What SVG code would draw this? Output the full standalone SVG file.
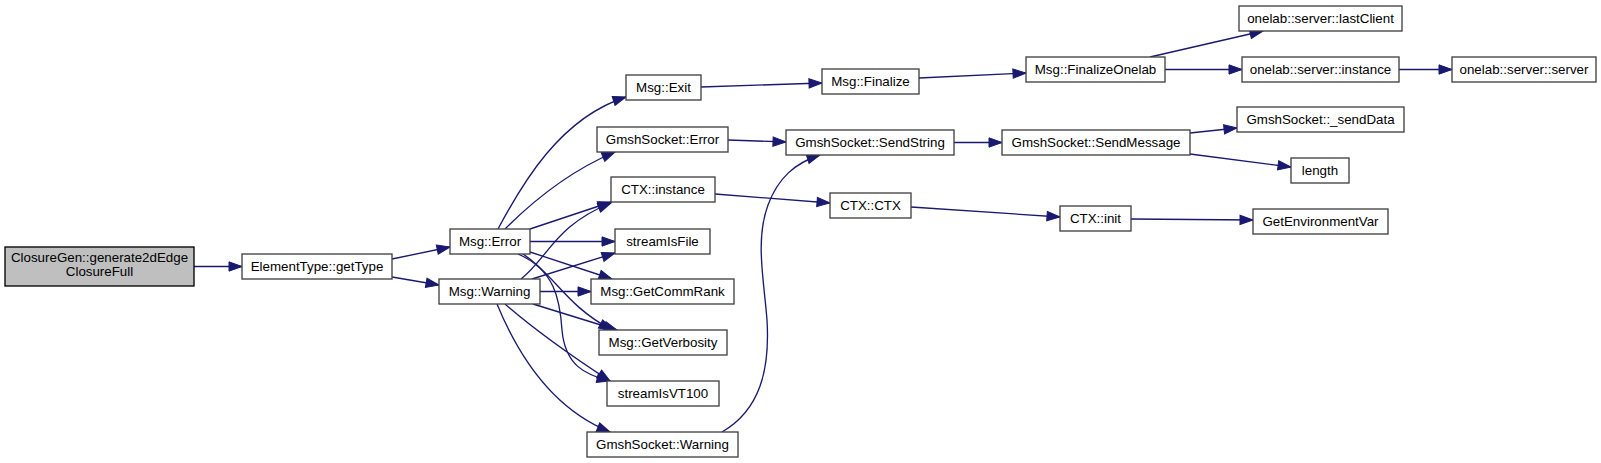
<svg xmlns="http://www.w3.org/2000/svg" width="1601" height="463" viewBox="0 0 1601 463">
<style>
.n rect{fill:#ffffff;stroke:#404040;stroke-width:1.33}
.n text{font-family:"Liberation Sans",Arial,sans-serif;font-size:13.33px;fill:#000;text-anchor:middle}
#edges path{fill:none;stroke:#191970;stroke-width:1.33;marker-end:url(#ah)}
</style>
<defs>
<marker id="ah" markerUnits="userSpaceOnUse" markerWidth="14" markerHeight="10" refX="13" refY="4.65" orient="auto" overflow="visible">
<path d="M0,0 L13,4.65 L0,9.3 z" fill="#191970" stroke="#191970" stroke-width="1"/>
</marker>
</defs>
<rect width="1601" height="463" fill="#ffffff"/>
<g id="edges">
<path d="M194,266.5 L242,266.5"/>
<path d="M392,259 L450,247"/>
<path d="M392,277 L439,285"/>
<path d="M498,229 C522,184 560,118 626,97"/>
<path d="M505,229 C530,204 567,172 615,152"/>
<path d="M530,229 L611,202"/>
<path d="M530,241.5 L615,241.5"/>
<path d="M530,252 L612,279"/>
<path d="M523,254 C555,275 565,305 612,330"/>
<path d="M518,254 C555,270 560,300 562,330 C565,365 585,375 610,381"/>
<path d="M521,279 C548,258 555,225 611,203"/>
<path d="M532,279 L615,253"/>
<path d="M540,291.5 L591,291.5"/>
<path d="M533,304 L617,330"/>
<path d="M505,304 C535,330 570,355 610,381"/>
<path d="M497,304 C520,360 555,410 610,432"/>
<path d="M722,432 C760,410 770,370 767,320 C764,280 755,240 768,205 C778,178 795,163 820,155"/>
<path d="M701,87 L822,83"/>
<path d="M919,78 L1026,73"/>
<path d="M728,140 L786,142"/>
<path d="M715,194 L830,203"/>
<path d="M954,142.5 L1002,142.5"/>
<path d="M911,207 L1060,217"/>
<path d="M1150,57 L1263,31"/>
<path d="M1165,69.5 L1242,69.5"/>
<path d="M1399,69.5 L1452,69.5"/>
<path d="M1190,133 L1237,128"/>
<path d="M1190,154 L1291,167"/>
<path d="M1131,219 L1253,220"/>
</g>
<g id="n0" class="n"><rect x="5" y="247" width="189" height="39" style="fill:#bfbfbf;stroke:#000"/><text x="99.5" y="262">ClosureGen::generate2dEdge</text><text x="99.5" y="276">ClosureFull</text></g>
<g id="n1" class="n"><rect x="242" y="254" width="150" height="25"/><text x="317" y="271">ElementType::getType</text></g>
<g id="n2" class="n"><rect x="450" y="229" width="80" height="25"/><text x="490" y="246">Msg::Error</text></g>
<g id="n3" class="n"><rect x="626" y="75" width="75" height="25"/><text x="663.5" y="92">Msg::Exit</text></g>
<g id="n4" class="n"><rect x="822" y="69" width="97" height="25"/><text x="870.5" y="86">Msg::Finalize</text></g>
<g id="n5" class="n"><rect x="1026" y="57" width="139" height="25"/><text x="1095.5" y="74">Msg::FinalizeOnelab</text></g>
<g id="n6" class="n"><rect x="1239" y="6" width="163" height="25"/><text x="1320.5" y="23">onelab::server::lastClient</text></g>
<g id="n7" class="n"><rect x="1242" y="57" width="157" height="25"/><text x="1320.5" y="74">onelab::server::instance</text></g>
<g id="n8" class="n"><rect x="1452" y="57" width="144" height="25"/><text x="1524" y="74">onelab::server::server</text></g>
<g id="n9" class="n"><rect x="597" y="127" width="131" height="25"/><text x="662.5" y="144">GmshSocket::Error</text></g>
<g id="n10" class="n"><rect x="786" y="130" width="168" height="25"/><text x="870" y="147">GmshSocket::SendString</text></g>
<g id="n11" class="n"><rect x="1002" y="130" width="188" height="25"/><text x="1096" y="147">GmshSocket::SendMessage</text></g>
<g id="n12" class="n"><rect x="1237" y="107" width="167" height="25"/><text x="1320.5" y="124">GmshSocket::_sendData</text></g>
<g id="n13" class="n"><rect x="1291" y="158" width="58" height="25"/><text x="1320" y="175">length</text></g>
<g id="n14" class="n"><rect x="611" y="177" width="104" height="25"/><text x="663" y="194">CTX::instance</text></g>
<g id="n15" class="n"><rect x="830" y="193" width="81" height="25"/><text x="870.5" y="210">CTX::CTX</text></g>
<g id="n16" class="n"><rect x="1060" y="206" width="71" height="25"/><text x="1095.5" y="223">CTX::init</text></g>
<g id="n17" class="n"><rect x="1253" y="209" width="135" height="25"/><text x="1320.5" y="226">GetEnvironmentVar</text></g>
<g id="n18" class="n"><rect x="615" y="229" width="95" height="25"/><text x="662.5" y="246">streamIsFile</text></g>
<g id="n19" class="n"><rect x="439" y="279" width="101" height="25"/><text x="489.5" y="296">Msg::Warning</text></g>
<g id="n20" class="n"><rect x="591" y="279" width="143" height="25"/><text x="662.5" y="296">Msg::GetCommRank</text></g>
<g id="n21" class="n"><rect x="599" y="330" width="128" height="25"/><text x="663" y="347">Msg::GetVerbosity</text></g>
<g id="n22" class="n"><rect x="607" y="381" width="112" height="25"/><text x="663" y="398">streamIsVT100</text></g>
<g id="n23" class="n"><rect x="587" y="432" width="151" height="25"/><text x="662.5" y="449">GmshSocket::Warning</text></g>
</svg>
